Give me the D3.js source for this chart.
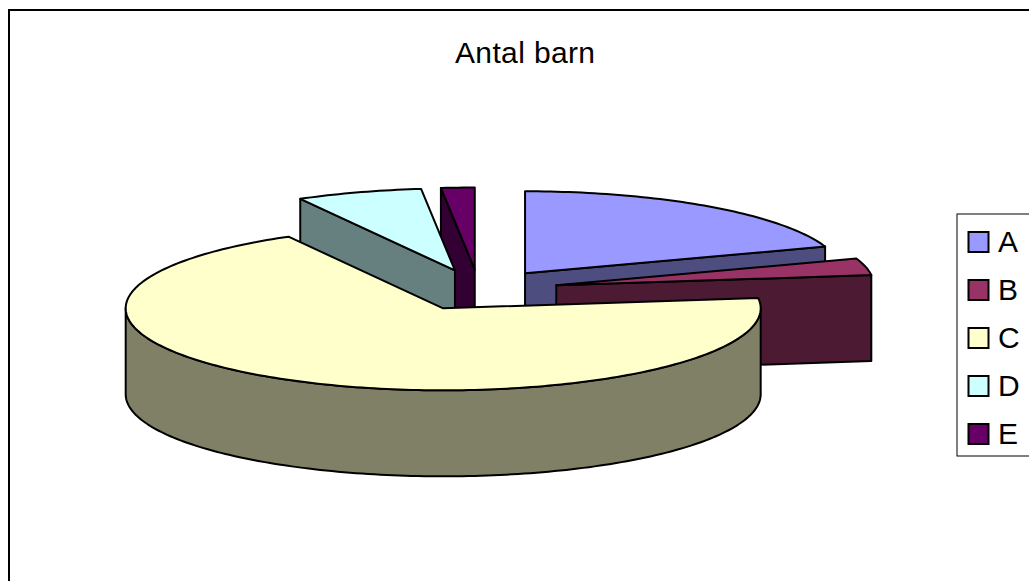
<!DOCTYPE html>
<html>
<head>
<meta charset="utf-8">
<script src="https://cdn.jsdelivr.net/npm/d3@7"></script>
<style>
body { margin: 0; background: #fff; overflow: hidden; }
text { font-family: "Liberation Sans", Arial, sans-serif; fill: #000; }
</style>
</head>
<body>
<div id="chart"></div>
<script>
// data
var title = "Antal barn";
var categories = ["A", "B", "C", "D", "E"];
var values = [19.7, 3.3, 68.9, 6.4, 1.7];
var colors = ["#9999ff", "#993366", "#ffffcc", "#ccffff", "#660066"];

var width = 1029, height = 581;

// pie geometry
var rx = 317.5, ry = 82, depth = 86;
var cx = 479, cy = 290, explode = 0.25;

var svg = d3.select("#chart").append("svg")
    .attr("width", width)
    .attr("height", height);

// outer frame, runs off the page right and below
svg.append("rect")
    .attr("x", 9).attr("y", 10)
    .attr("width", 1100).attr("height", 700)
    .attr("fill", "#fff")
    .attr("stroke", "#000")
    .attr("stroke-width", 2);

svg.append("text")
    .attr("x", 525).attr("y", 63)
    .attr("text-anchor", "middle")
    .attr("font-size", 30)
    .attr("textLength", 140)
    .text(title);

var pie = d3.pie().sort(null).value(function(d) { return d.value; });
var slices = pie(categories.map(function(c, i) {
    return { name: c, value: values[i], color: colors[i] };
}));

// angle t is clockwise from top, as in d3.pie
function pt(c, t, z) {
    return [c[0] + rx * Math.sin(t), c[1] - ry * Math.cos(t) + (z || 0)];
}
function arcPoints(c, t0, t1, z) {
    var n = Math.max(2, Math.ceil((t1 - t0) / 0.02)), out = [];
    for (var i = 0; i <= n; i++) out.push(pt(c, t0 + (t1 - t0) * i / n, z));
    return out;
}
var line = d3.line();
function closed(points) { return line(points) + "Z"; }

function darker(col) {
    var c = d3.rgb(col);
    return d3.rgb(c.r * 0.5, c.g * 0.5, c.b * 0.5).formatHex();
}

slices.forEach(function(s) {
    var mid = (s.startAngle + s.endAngle) / 2;
    s.mid = mid;
    s.center = [cx + explode * rx * Math.sin(mid), cy - explode * ry * Math.cos(mid)];
});

// back to front
var ordered = slices.slice().sort(function(a, b) {
    return Math.cos(b.mid) - Math.cos(a.mid);
});

function wall(g, s, t) {
    var c = s.center, p = pt(c, t);
    g.append("path")
        .attr("d", closed([c, p, [p[0], p[1] + depth], [c[0], c[1] + depth]]))
        .attr("fill", darker(s.data.color));
}

var strokeW = 2;
var groups = svg.selectAll("g.slice").data(ordered).enter().append("g")
    .attr("class", "slice")
    .attr("stroke", "#000")
    .attr("stroke-width", strokeW)
    .attr("stroke-linejoin", "round");

groups.each(function(s) {
    var g = d3.select(this);
    var t0 = s.startAngle, t1 = s.endAngle;
    // cut faces that turn toward the viewer
    if (Math.sin(t0) < -1e-6) wall(g, s, t0);
    if (Math.sin(t1) > 1e-6) wall(g, s, t1);
    // outer rim, only the front half of the ellipse
    var r0 = Math.max(t0, Math.PI / 2), r1 = Math.min(t1, 3 * Math.PI / 2);
    if (r1 > r0) {
        var rim = arcPoints(s.center, r0, r1, 0)
            .concat(arcPoints(s.center, r0, r1, depth).reverse());
        g.append("path").attr("d", closed(rim)).attr("fill", darker(s.data.color));
    }
    // top
    g.append("path")
        .attr("d", closed([s.center].concat(arcPoints(s.center, t0, t1, 0))))
        .attr("fill", s.data.color);
});

// legend
var legendY = d3.scalePoint().domain(categories).range([242, 434]);
svg.append("rect")
    .attr("x", 957).attr("y", 214)
    .attr("width", 200).attr("height", 242)
    .attr("fill", "#fff")
    .attr("stroke", "#000")
    .attr("stroke-width", 1);

var items = svg.selectAll("g.item").data(slices).enter().append("g")
    .attr("class", "item")
    .attr("transform", function(d) { return "translate(0," + legendY(d.data.name) + ")"; });
items.append("rect")
    .attr("x", 968.5).attr("y", -10)
    .attr("width", 20).attr("height", 20)
    .attr("fill", function(d) { return d.data.color; })
    .attr("stroke", "#000")
    .attr("stroke-width", 2);
items.append("text")
    .attr("x", 998).attr("y", 10)
    .attr("font-size", 30)
    .text(function(d) { return d.data.name; });
</script>
</body>
</html>
